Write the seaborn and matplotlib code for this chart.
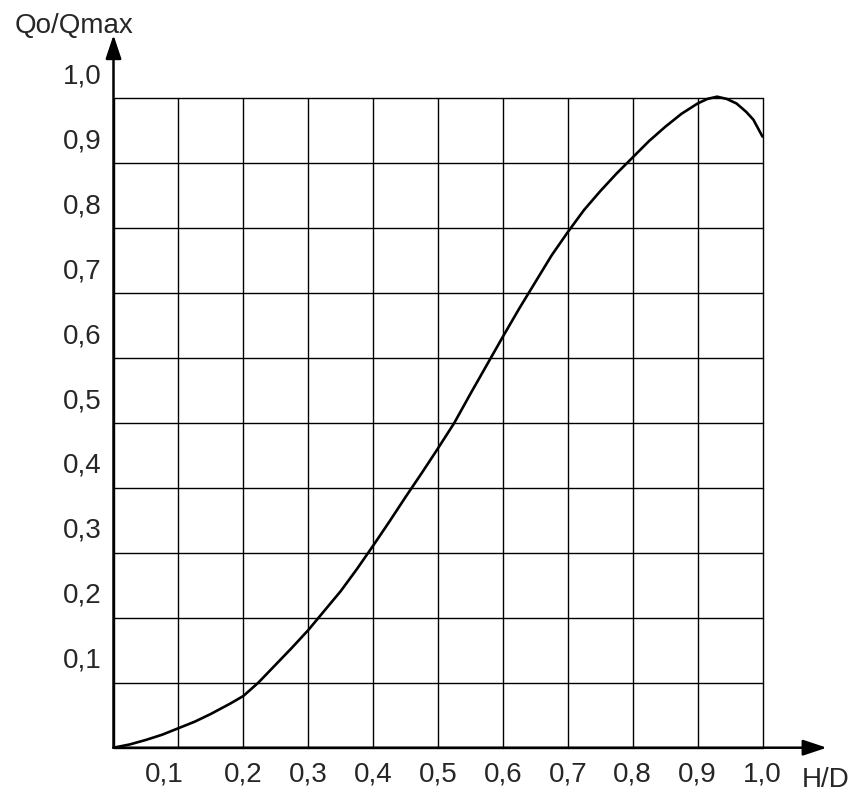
import numpy as np
import matplotlib
matplotlib.use('Agg')
import matplotlib.pyplot as plt
import matplotlib.transforms as mtransforms
import seaborn as sns

# H/D vs Qo/Qmax
hd = [0.0, 0.025, 0.05, 0.075, 0.1, 0.125, 0.15, 0.18, 0.2, 0.223, 0.25, 0.275,
      0.3, 0.325, 0.35, 0.375, 0.4, 0.425, 0.45, 0.475, 0.5, 0.525, 0.55, 0.575,
      0.6, 0.625, 0.65, 0.675, 0.7, 0.725, 0.75, 0.775, 0.8, 0.825, 0.85, 0.875,
      0.9, 0.915, 0.93, 0.945, 0.96, 0.975, 0.986, 1.0]
qq = [0.0, 0.005, 0.012, 0.02, 0.03, 0.04, 0.052, 0.068, 0.0796, 0.1, 0.128, 0.154,
      0.181, 0.211, 0.241, 0.275, 0.311, 0.348, 0.386, 0.423, 0.461, 0.5, 0.545, 0.589,
      0.633, 0.676, 0.717, 0.758, 0.794, 0.828, 0.857, 0.884, 0.909, 0.934, 0.956, 0.976,
      0.992, 0.999, 1.0025, 0.999, 0.992, 0.979, 0.967, 0.941]

grid_vals = [0.0, 0.1, 0.2, 0.3, 0.4, 0.5, 0.6, 0.7, 0.8, 0.9, 1.0]
x_labels = ['0,1', '0,2', '0,3', '0,4', '0,5', '0,6', '0,7', '0,8', '0,9', '1,0']
y_labels = ['0,1', '0,2', '0,3', '0,4', '0,5', '0,6', '0,7', '0,8', '0,9', '1,0']

sns.set_style('white')
plt.rcParams['font.family'] = ['Liberation Sans', 'DejaVu Sans']
fs = 20

fig = plt.figure(figsize=(8.56, 7.94), dpi=100)
ax = fig.add_axes([113.5 / 856, (794 - 747.7) / 794, 649 / 856, 649.4 / 794])

sns.lineplot(x=hd, y=qq, ax=ax, color='black', lw=1.9, sort=False, zorder=5)
for ln in ax.lines:
    ln.set_clip_on(False)
    ln.set_solid_joinstyle('round')

ax.set_xlim(0, 1)
ax.set_ylim(0, 1)
ax.set_xticks(grid_vals)
ax.set_yticks(grid_vals)
ax.tick_params(length=0, labelbottom=False, labelleft=False)
ax.grid(True, color='black', lw=1.0)
for gl in ax.get_xgridlines() + ax.get_ygridlines():
    gl.set_clip_on(False)
for s in ax.spines.values():
    s.set_visible(False)

# axis arrows
arr = dict(arrowstyle='-|>,head_length=0.72,head_width=0.24', lw=1.8, color='black',
           mutation_scale=20, shrinkA=0, shrinkB=0)
ax.annotate('', xy=(1.099, 0), xytext=(0, 0), xycoords='axes fraction', arrowprops=arr)
ax.annotate('', xy=(0, 1.0975), xytext=(0, 0), xycoords='axes fraction', arrowprops=arr)

# tick labels
for i, lab in enumerate(x_labels):
    dx = -10.4 if i == 0 else 0
    tr = mtransforms.offset_copy(ax.transData, fig=fig, x=dx, y=-24.5, units='points')
    ax.text(grid_vals[i + 1], 0, lab, transform=tr, ha='center', va='baseline', fontsize=fs)
for i, lab in enumerate(y_labels):
    tr = mtransforms.offset_copy(ax.transData, fig=fig, x=-8.5, y=10.8, units='points')
    ax.text(0, grid_vals[i + 1], lab, transform=tr, ha='right', va='baseline', fontsize=fs)

fig.text(801.7 / 856, (794 - 786.7) / 794, 'H/D', ha='left', va='baseline', fontsize=fs)
fig.text(15 / 856, (794 - 33) / 794, 'Qo/Qmax', ha='left', va='baseline', fontsize=fs)

fig.savefig('out.png', dpi=100)
